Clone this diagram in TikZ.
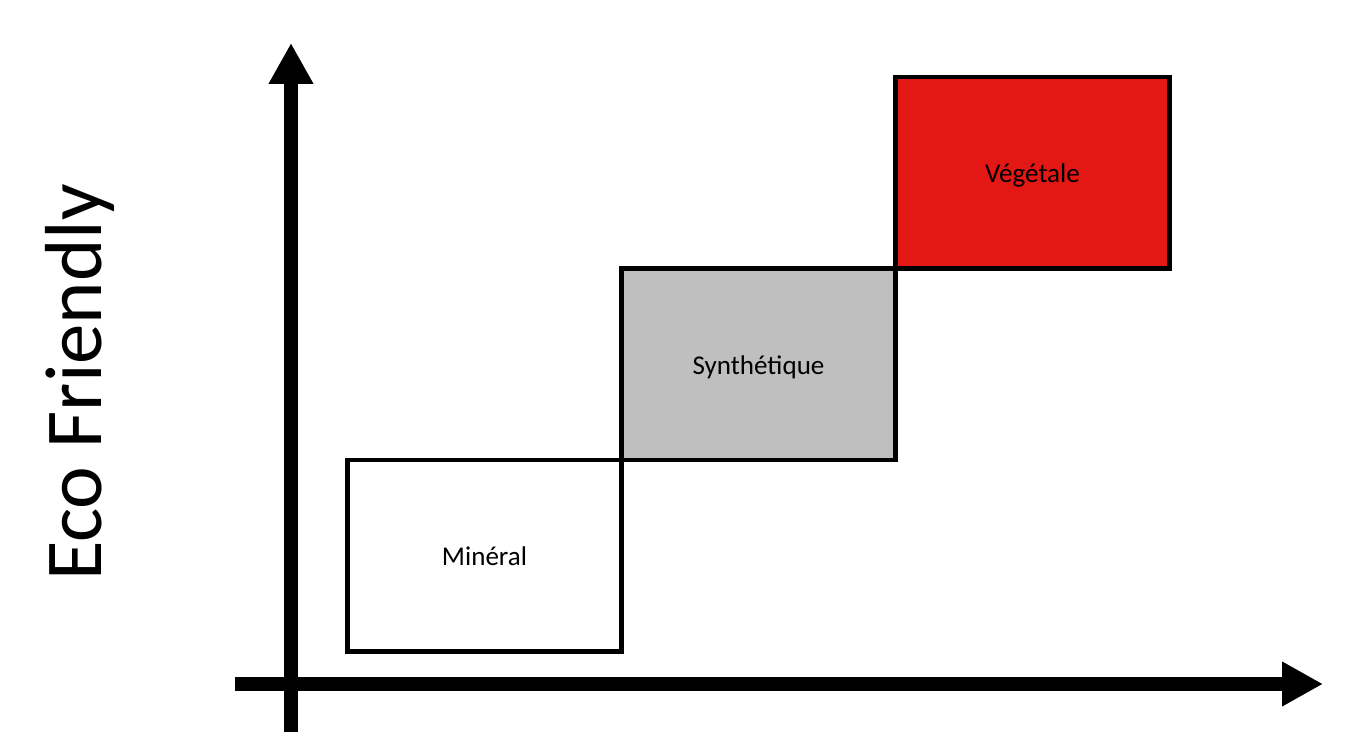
\documentclass[tikz,border=0pt]{standalone}
\usepackage{fontspec}
\setmainfont{Carlito}
\usetikzlibrary{arrows.meta, positioning}
\definecolor{vegred}{RGB}{227,23,19}
\definecolor{syngray}{RGB}{191,191,191}
\begin{document}
\begin{tikzpicture}[
    axis/.style={line width=7.9pt, -{Triangle[length=0.82cm, width=0.84cm]}},
    cat/.style={draw, line width=2.5pt, outer sep=0pt, minimum width=5.48cm, minimum height=3.83cm, text height=11.5pt, text depth=0pt, font=\fontsize{15.4}{18}\selectfont}
  ]
    \useasboundingbox (0, 0) rectangle (27.32, 14.64);
    \coordinate (ybot) at (5.82, 0);
    \coordinate (ytop) at (5.82, 13.78);
    \coordinate (xleft) at (4.70, 0.96);
    \coordinate (xright) at (26.46, 0.96);
    \draw[axis] (ybot) -- (ytop);
    \draw[axis] (xleft) -- (xright);
    \node[rotate=90, anchor=base, font=\fontsize{46}{50}\selectfont] (eco) at (2.04, 6.99) {Eco Friendly};
    \node[cat, anchor=south west] (min) at (6.95, 1.61) {Minéral};
    \node[cat, fill=syngray, above right=0cm and 0cm of min] (syn) {Synthétique};
    \node[cat, fill=vegred, above right=0cm and 0cm of syn] (veg) {Végétale};
\end{tikzpicture}
\end{document}
